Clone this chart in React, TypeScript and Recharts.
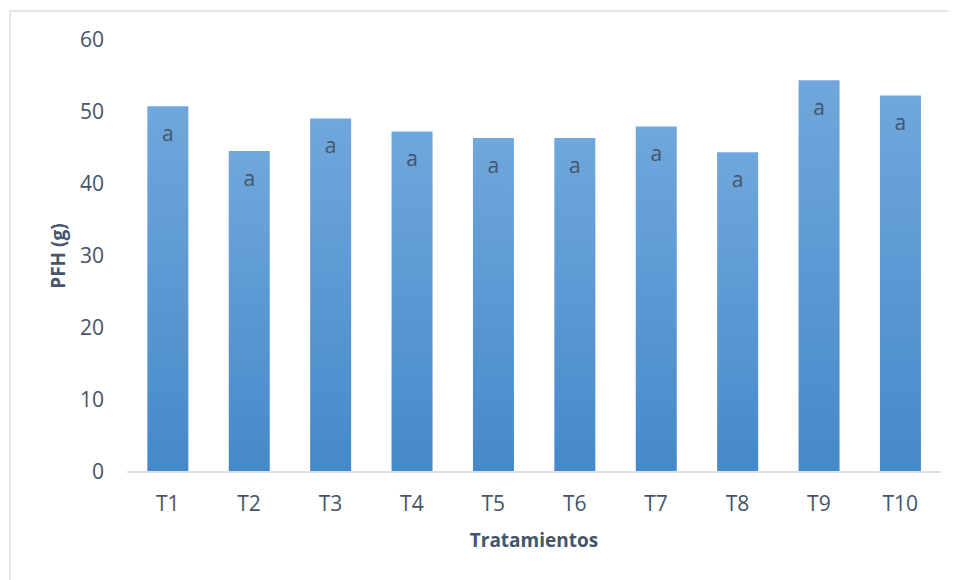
import { BarChart, Bar, XAxis, YAxis, LabelList } from 'recharts';

const categories = ['T1', 'T2', 'T3', 'T4', 'T5', 'T6', 'T7', 'T8', 'T9', 'T10'];
const pfh = [50.8, 44.6, 49.1, 47.3, 46.4, 46.4, 48.0, 44.4, 54.4, 52.3];
const letters = ['a', 'a', 'a', 'a', 'a', 'a', 'a', 'a', 'a', 'a'];
const yTicks = [0, 10, 20, 30, 40, 50, 60];

const data = categories.map((name, i) => ({ name, value: pfh[i], letter: letters[i] }));

const TEXT = '#44546A';
const FONT = '"Open Sans", sans-serif';

const YTitle = ({ viewBox }: any) => {
  const x = viewBox.x + 50;
  const y = viewBox.y + viewBox.height / 2;
  return (
    <text
      x={x}
      y={y}
      transform={`rotate(-90, ${x}, ${y})`}
      textAnchor="middle"
      dominantBaseline="central"
      fill={TEXT}
      fontFamily={FONT}
      fontSize={19}
      fontWeight="bold"
    >
      PFH (g)
    </text>
  );
};

const App = () => (
  <div style={{ position: 'relative', width: 948, height: 572 }}>
    <div
      style={{
        position: 'absolute',
        left: 1,
        top: 2,
        width: 960,
        height: 600,
        borderTop: '2px solid #e2e6ec',
        borderLeft: '2px solid #e2e6ec',
        boxSizing: 'border-box',
      }}
    />
    <div style={{ position: 'absolute', left: 0, top: 0 }}>
      <BarChart
        width={948}
        height={572}
        data={data}
        margin={{ top: 32, right: 15, bottom: 0, left: 0 }}
        barCategoryGap="25%"
        style={{ fontFamily: FONT }}
      >
        <defs>
          <linearGradient id="barFill" x1="0" y1="0" x2="0" y2="1">
            <stop offset="0%" stopColor="#70a7dc" />
            <stop offset="100%" stopColor="#4589ca" />
          </linearGradient>
        </defs>
        <XAxis
          dataKey="name"
          height={108}
          tickLine={false}
          tickSize={0}
          tickMargin={24}
          axisLine={{ stroke: '#dde1e7', strokeWidth: 2 }}
          tick={{ fill: TEXT, fontSize: 21, fontFamily: FONT }}
          label={{
            value: 'Tratamientos',
            position: 'insideBottom',
            offset: 33,
            fill: TEXT,
            fontSize: 19,
            fontWeight: 'bold',
            fontFamily: FONT,
          }}
        />
        <YAxis
          width={119}
          domain={[0, 60]}
          ticks={yTicks}
          axisLine={false}
          tickLine={false}
          tickSize={0}
          tickMargin={23}
          tick={{ fill: TEXT, fontSize: 21, fontFamily: FONT }}
          label={<YTitle />}
        />
        <Bar dataKey="value" fill="url(#barFill)" isAnimationActive={false}>
          <LabelList
            dataKey="letter"
            position="insideTop"
            offset={20}
            fill={TEXT}
            fontSize={21}
            fontFamily={FONT}
          />
        </Bar>
      </BarChart>
    </div>
  </div>
);

export default App;
